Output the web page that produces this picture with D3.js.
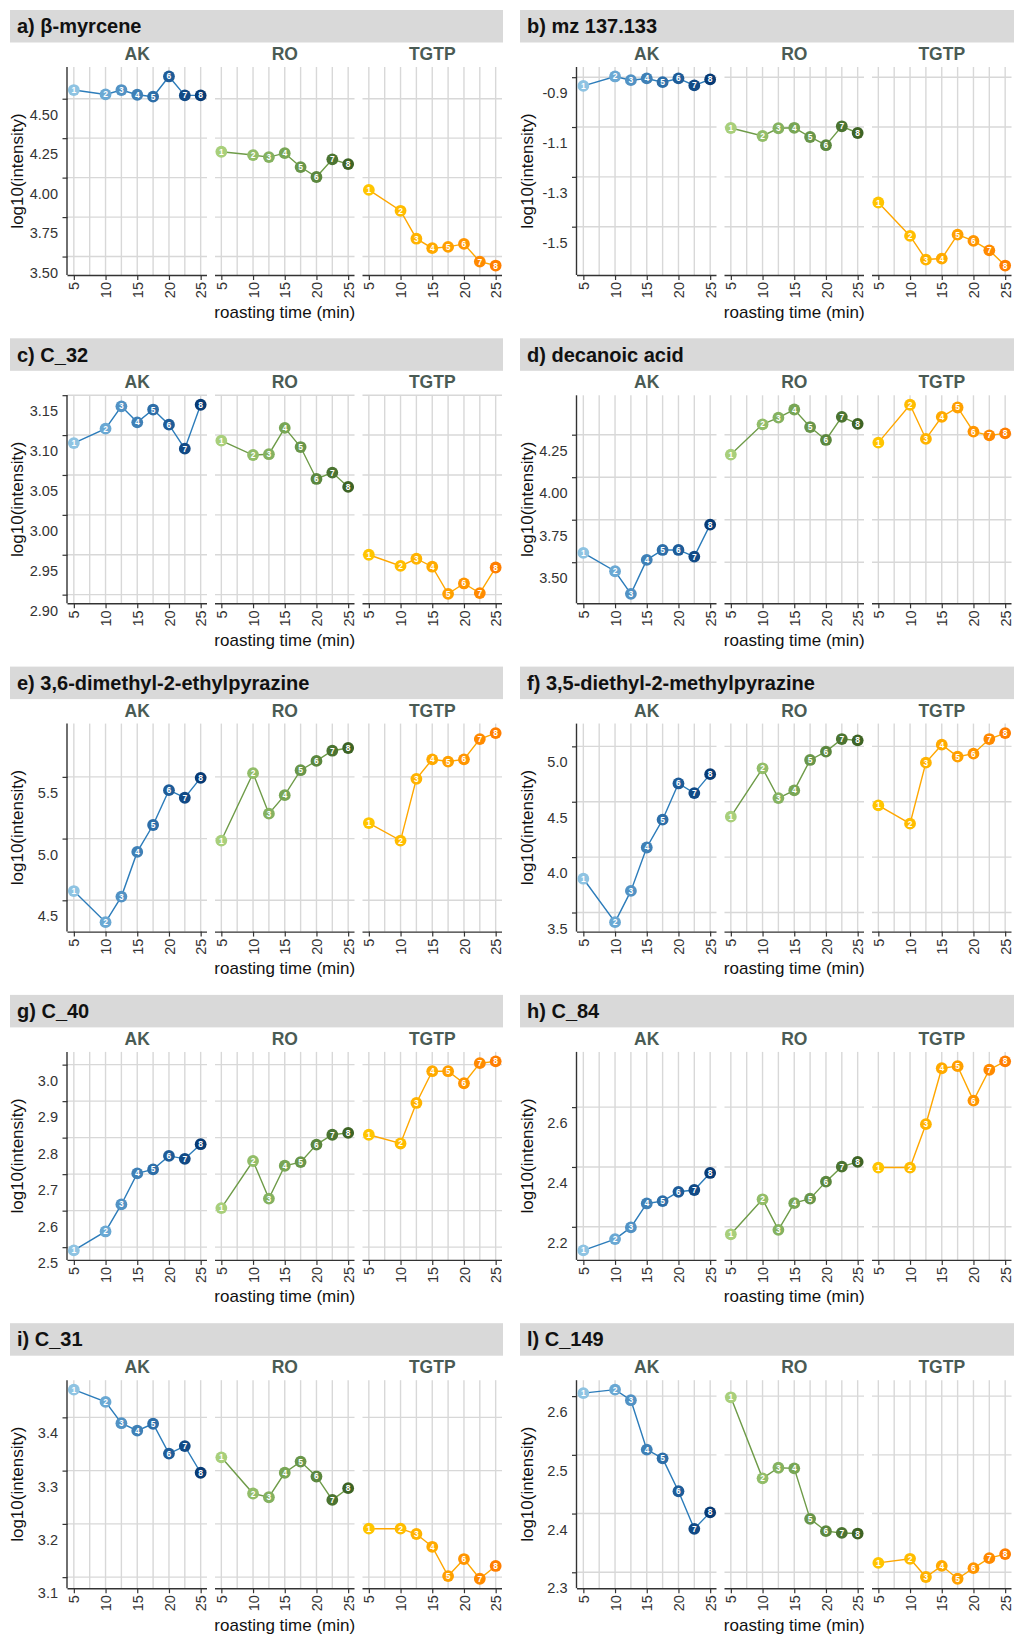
<!DOCTYPE html>
<html>
<head>
<meta charset="utf-8">
<script src="https://cdn.jsdelivr.net/npm/d3@7/dist/d3.min.js"></script>
<style>
  html, body { margin: 0; padding: 0; background: #ffffff; }
  svg { display: block; font-family: "Liberation Sans", Arial, Helvetica, sans-serif; }
</style>
</head>
<body>
<svg id="chart" width="1014" height="1635"></svg>
<script>
// Roasting times (min) of the eight sampling points, numbered 1..8
const times = [5, 10, 12.5, 15, 17.5, 20, 22.5, 25];
const pointIds = ["1", "2", "3", "4", "5", "6", "7", "8"];
const groups = ["AK", "RO", "TGTP"];

// Panel titles
const titles = [
  "a) β-myrcene", "b) mz 137.133",
  "c) C_32", "d) decanoic acid",
  "e) 3,6-dimethyl-2-ethylpyrazine", "f) 3,5-diethyl-2-methylpyrazine",
  "g) C_40", "h) C_84",
  "i) C_31", "l) C_149"
];

// log10(intensity) per origin, for the eight roasting times
const betaMyrcene = {
  AK:   [4.555, 4.527, 4.555, 4.525, 4.513, 4.641, 4.521, 4.521],
  RO:   [4.164, 4.143, 4.130, 4.155, 4.067, 4.004, 4.116, 4.086],
  TGTP: [3.922, 3.790, 3.613, 3.553, 3.561, 3.580, 3.468, 3.443]
};
const mz137 = {
  AK:   [-0.935, -0.897, -0.912, -0.905, -0.920, -0.905, -0.933, -0.909],
  RO:   [-1.104, -1.136, -1.105, -1.103, -1.140, -1.173, -1.097, -1.124],
  TGTP: [-1.403, -1.537, -1.632, -1.628, -1.532, -1.557, -1.595, -1.656]
};
const c32 = {
  AK:   [3.090, 3.108, 3.136, 3.116, 3.132, 3.113, 3.083, 3.138],
  RO:   [3.093, 3.075, 3.076, 3.109, 3.085, 3.045, 3.053, 3.035],
  TGTP: [2.950, 2.936, 2.945, 2.935, 2.901, 2.914, 2.902, 2.934]
};
const decanoicAcid = {
  AK:   [3.555, 3.447, 3.314, 3.514, 3.572, 3.572, 3.533, 3.721],
  RO:   [4.133, 4.311, 4.350, 4.398, 4.295, 4.219, 4.355, 4.314],
  TGTP: [4.203, 4.426, 4.225, 4.355, 4.410, 4.268, 4.246, 4.258]
};
const dimethylEthylpyrazine = {
  AK:   [4.575, 4.323, 4.530, 4.892, 5.110, 5.392, 5.331, 5.492],
  RO:   [4.984, 5.530, 5.202, 5.352, 5.554, 5.629, 5.712, 5.734],
  TGTP: [5.126, 4.984, 5.484, 5.642, 5.624, 5.642, 5.806, 5.855]
};
const diethylMethylpyrazine = {
  AK:   [3.805, 3.413, 3.695, 4.087, 4.338, 4.665, 4.578, 4.749],
  RO:   [4.365, 4.802, 4.533, 4.602, 4.877, 4.952, 5.066, 5.054],
  TGTP: [4.467, 4.302, 4.853, 5.015, 4.907, 4.934, 5.066, 5.120]
};
const c40 = {
  AK:   [2.491, 2.543, 2.617, 2.702, 2.713, 2.750, 2.742, 2.782],
  RO:   [2.607, 2.736, 2.633, 2.723, 2.733, 2.781, 2.808, 2.813],
  TGTP: [2.808, 2.784, 2.895, 2.982, 2.982, 2.949, 3.004, 3.009]
};
const c84 = {
  AK:   [2.121, 2.159, 2.198, 2.278, 2.286, 2.317, 2.323, 2.380],
  RO:   [2.175, 2.292, 2.190, 2.279, 2.294, 2.351, 2.401, 2.417],
  TGTP: [2.398, 2.398, 2.543, 2.730, 2.737, 2.622, 2.725, 2.753]
};
const c31 = {
  AK:   [3.452, 3.429, 3.389, 3.375, 3.388, 3.332, 3.346, 3.296],
  RO:   [3.325, 3.257, 3.250, 3.296, 3.317, 3.289, 3.245, 3.267],
  TGTP: [3.191, 3.191, 3.181, 3.157, 3.102, 3.134, 3.097, 3.121]
};
const c149 = {
  AK:   [2.605, 2.611, 2.593, 2.509, 2.494, 2.438, 2.374, 2.402],
  RO:   [2.598, 2.460, 2.478, 2.477, 2.391, 2.370, 2.367, 2.366],
  TGTP: [2.316, 2.323, 2.292, 2.311, 2.289, 2.307, 2.324, 2.331]
};

// y-axis tick labels per panel
const ticksA = ["3.50", "3.75", "4.00", "4.25", "4.50"];
const ticksB = ["-1.5", "-1.3", "-1.1", "-0.9"];
const ticksC = ["2.90", "2.95", "3.00", "3.05", "3.10", "3.15"];
const ticksD = ["3.50", "3.75", "4.00", "4.25"];
const ticksE = ["4.5", "5.0", "5.5"];
const ticksF = ["3.5", "4.0", "4.5", "5.0"];
const ticksG = ["2.5", "2.6", "2.7", "2.8", "2.9", "3.0"];
const ticksH = ["2.2", "2.4", "2.6"];
const ticksI = ["3.1", "3.2", "3.3", "3.4"];
const ticksL = ["2.3", "2.4", "2.5", "2.6"];

// x-axis tick labels
const xTicks = ["5", "10", "15", "20", "25"];

const panelData = [betaMyrcene, mz137, c32, decanoicAcid, dimethylEthylpyrazine,
                   diethylMethylpyrazine, c40, c84, c31, c149];
const panelTicks = [ticksA, ticksB, ticksC, ticksD, ticksE, ticksF, ticksG, ticksH, ticksI, ticksL];

// Colour ramps: points darken with roasting time, lines use one hue per origin
const pointColors = {
  AK:   ["#8ec3e2", "#6aa8d3", "#5292c4", "#3f80b6", "#2d6ea8", "#1e5c98", "#114a86", "#083b75"],
  RO:   ["#a8cf7b", "#92bd69", "#85b260", "#78a655", "#69964a", "#5b873e", "#4b7431", "#3e6425"],
  TGTP: ["#ffc500", "#ffbc00", "#ffb300", "#ffaa00", "#ffa000", "#ff9500", "#ff8a00", "#ff7e00"]
};
const lineColors = { AK: "#2c7cba", RO: "#6e9b48", TGTP: "#ffa700" };

// Layout
const svg = d3.select("#chart");
const rowTop0 = 10, rowPitch = 328.3;
const stripX = [10, 520], stripW = [493, 494], stripH = 32.5;
const plotLeft = [67.5, 577];
const facetW = 139.5, facetGap = 8;
const plotTopOff = 57, plotBotOff = 265;
const labelShift = 16;
const axisColor = "#333333";
const gridColor = "#d8d8d8";

panelData.forEach((data, i) => {
  const row = Math.floor(i / 2), col = i % 2;
  const top = rowTop0 + row * rowPitch;
  const yTop = top + plotTopOff, yBot = top + plotBotOff;
  const g = svg.append("g");

  // title strip
  g.append("rect")
    .attr("x", stripX[col]).attr("y", top)
    .attr("width", stripW[col]).attr("height", stripH)
    .attr("fill", "#d9d9d9");
  g.append("text")
    .attr("x", stripX[col] + 7).attr("y", top + stripH / 2)
    .attr("dominant-baseline", "central")
    .attr("font-size", 20).attr("font-weight", "bold").attr("fill", "#111")
    .text(titles[i]);

  // shared y scale, ggplot-style 5% expansion of the data range
  const all = groups.flatMap(k => data[k]);
  const [mn, mx] = d3.extent(all);
  const pad = (mx - mn) * 0.05;
  const y = d3.scaleLinear().domain([mn - pad, mx + pad]).range([yBot, yTop]);
  const tickVals = panelTicks[i].map(Number);

  groups.forEach((grp, gi) => {
    const fx = plotLeft[col] + gi * (facetW + facetGap);
    const x = d3.scaleLinear().domain([4, 26]).range([fx, fx + facetW]);
    const fg = g.append("g");

    // facet label
    fg.append("text")
      .attr("x", fx + facetW / 2).attr("y", top + 44)
      .attr("text-anchor", "middle").attr("dominant-baseline", "central")
      .attr("font-size", 17.5).attr("font-weight", "bold").attr("fill", "#4a5b54")
      .text(grp);

    // grid
    fg.append("g").selectAll("line").data(d3.range(5, 25.01, 2.5)).join("line")
      .attr("x1", d => x(d)).attr("x2", d => x(d))
      .attr("y1", yTop).attr("y2", yBot)
      .attr("stroke", gridColor).attr("stroke-width", 1.4);
    fg.append("g").selectAll("line").data(tickVals).join("line")
      .attr("x1", fx).attr("x2", fx + facetW)
      .attr("y1", d => y(d)).attr("y2", d => y(d))
      .attr("stroke", gridColor).attr("stroke-width", 1.4);

    // x axis
    const xa = fg.append("g").attr("transform", `translate(0,${yBot})`)
      .call(d3.axisBottom(x).tickValues(xTicks.map(Number)).tickSize(5).tickSizeOuter(0)
        .tickFormat((d, j) => xTicks[j]));
    xa.select(".domain").attr("stroke", axisColor).attr("stroke-width", 1.4)
      .attr("d", `M${fx},0.5H${fx + facetW}`);
    xa.selectAll(".tick line").attr("stroke", axisColor).attr("stroke-width", 1.2);
    xa.selectAll(".tick text")
      .attr("font-size", 14.5).attr("fill", "#333")
      .attr("font-family", "Liberation Sans, Arial, sans-serif")
      .attr("transform", "rotate(-90)")
      .attr("text-anchor", "end")
      .attr("x", -7).attr("y", 0).attr("dy", "0.35em");

    // y axis on the first facet only
    if (gi === 0) {
      const ya = fg.append("g").attr("transform", `translate(${fx},0)`)
        .call(d3.axisLeft(y).tickValues(tickVals).tickSize(5).tickSizeOuter(0).tickPadding(4.5)
          .tickFormat((d, j) => panelTicks[i][j]));
      ya.select(".domain").attr("stroke", axisColor).attr("stroke-width", 1.4)
        .attr("d", `M-0.5,${yTop}V${yBot}`);
      ya.selectAll(".tick line").attr("stroke", axisColor).attr("stroke-width", 1.2);
      ya.selectAll(".tick text")
        .attr("font-size", 14.5).attr("fill", "#333")
        .attr("font-family", "Liberation Sans, Arial, sans-serif")
        .attr("transform", `translate(0,${labelShift})`);
    }

    // series line
    const vals = data[grp];
    fg.append("path")
      .datum(vals)
      .attr("fill", "none").attr("stroke", lineColors[grp]).attr("stroke-width", 1.4)
      .attr("d", d3.line().x((d, j) => x(times[j])).y(d => y(d)));

    // numbered points
    const pts = fg.append("g").selectAll("g").data(vals).join("g")
      .attr("transform", (d, j) => `translate(${x(times[j])},${y(d)})`);
    pts.append("circle").attr("r", 5.9).attr("fill", (d, j) => pointColors[grp][j]);
    pts.append("text")
      .attr("text-anchor", "middle").attr("dominant-baseline", "central")
      .attr("font-size", 8.5).attr("font-weight", "bold").attr("fill", "#ffffff")
      .text((d, j) => pointIds[j]);
  });

  // axis titles
  const yMid = (yTop + yBot) / 2;
  g.append("text")
    .attr("transform", `translate(${stripX[col] + 7.5},${yMid}) rotate(-90)`)
    .attr("text-anchor", "middle").attr("dominant-baseline", "central")
    .attr("font-size", 17).attr("fill", "#111")
    .text("log10(intensity)");
  g.append("text")
    .attr("x", plotLeft[col] + (3 * facetW + 2 * facetGap) / 2).attr("y", top + 302)
    .attr("text-anchor", "middle").attr("dominant-baseline", "central")
    .attr("font-size", 17).attr("fill", "#111")
    .text("roasting time (min)");
});
</script>
</body>
</html>
